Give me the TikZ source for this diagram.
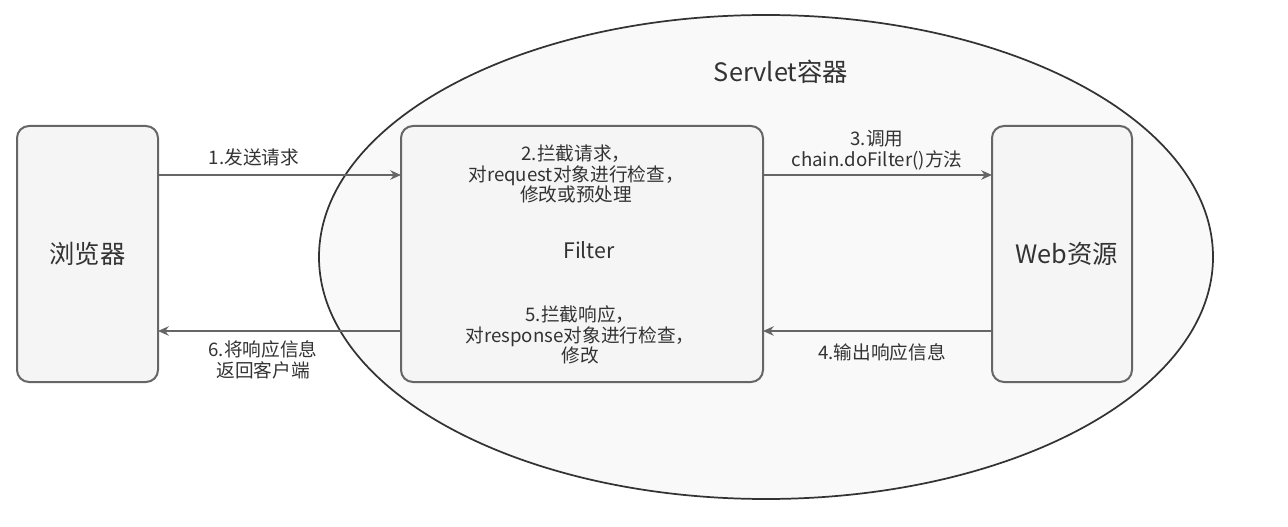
\documentclass[tikz,border=0pt]{standalone}
\usepackage{fontspec}
\setmainfont{Noto Sans CJK SC}
\usetikzlibrary{arrows.meta,shapes.geometric}
\definecolor{boxfill}{HTML}{F5F5F5}
\definecolor{boxline}{HTML}{666666}
\definecolor{ellfill}{HTML}{F9F9F9}
\definecolor{ellline}{HTML}{333333}
\definecolor{txt}{HTML}{333333}
\begin{document}
\begin{tikzpicture}[x=0.75pt,y=-0.75pt,
  box/.style={draw=boxline, fill=boxfill, line width=1.5pt, rounded corners=9pt, inner sep=0pt, outer sep=0pt, text=txt},
  arr/.style={draw=boxline, line width=1.5pt, -{Stealth[length=8pt,width=7pt,inset=2.5pt]}},
  lbl/.style={text=txt, font=\fontsize{14}{15.5}\selectfont, align=center, inner sep=0pt},
  big/.style={font=\fontsize{19}{22}\selectfont},
]
\useasboundingbox (0,0) rectangle (1288,527);
\node[ellipse, draw=ellline, fill=ellfill, line width=1.3pt, minimum width=670.5pt, minimum height=363pt, inner sep=0pt, outer sep=0pt] (servlet) at (766,257) {};
\node[text=txt, big, inner sep=0pt] (title) at (781,72) {Servlet容器};

\node[box, big, minimum width=105.75pt, minimum height=192pt] (browser) at (87.5,254) {浏览器};
\node[box, minimum width=271.5pt, minimum height=192pt] (filter) at (582,254) {};
\node[box, big, minimum width=105pt, minimum height=192pt] (web) at (1062,254) {\hspace{7pt}Web资源};

\node[lbl] (ftop) at (576,174) {2.拦截请求，\\对request对象进行检查，\\修改或预处理};
\node[text=txt, font=\fontsize{16}{18}\selectfont, inner sep=0pt] (fname) at (589,250) {Filter};
\node[lbl] (fbot) at (580,335) {5.拦截响应，\\对response对象进行检查，\\修改};

\draw[arr] ([yshift=59.25pt]browser.east) -- ([yshift=59.25pt]filter.west);
\draw[arr] ([yshift=-57.75pt]filter.west) -- ([yshift=-57.75pt]browser.east);
\draw[arr] ([yshift=59.25pt]filter.east) -- ([yshift=59.25pt]web.west);
\draw[arr] ([yshift=-57.75pt]web.west) -- ([yshift=-57.75pt]filter.east);

\node[lbl] (l1) at (254,157) {1.发送请求};
\node[lbl] (l6) at (263,360) {6.将响应信息\\返回客户端};
\node[lbl] (l3) at (877,150) {3.调用\\chain.doFilter()方法};
\node[lbl] (l4) at (882,352) {4.输出响应信息};
\end{tikzpicture}
\end{document}
